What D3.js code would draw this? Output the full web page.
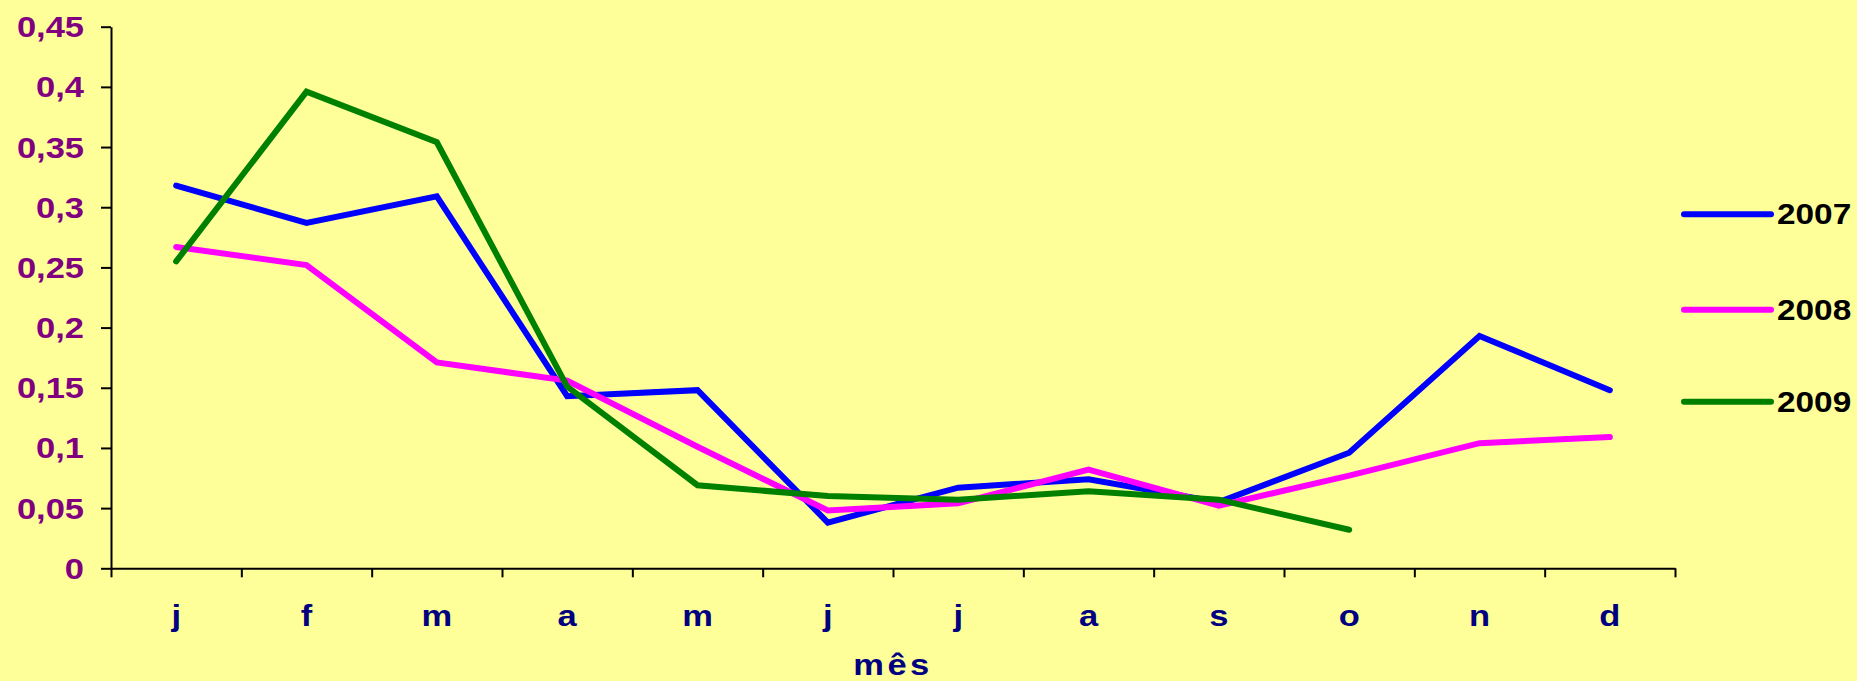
<!DOCTYPE html>
<html>
<head>
<meta charset="utf-8">
<script src="https://cdn.jsdelivr.net/npm/d3@7"></script>
<style>
  html, body { margin: 0; padding: 0; background: #FFFF99; }
  svg { display: block; }
  text { font-family: "Liberation Sans", Arial, sans-serif; font-weight: bold; }
</style>
</head>
<body>
<script>
// Monthly series, one array per year
const months = ["j", "f", "m", "a", "m", "j", "j", "a", "s", "o", "n", "d"];
const years = ["2007", "2008", "2009"];
const values2007 = [0.318, 0.287, 0.309, 0.143, 0.148, 0.038, 0.067, 0.074, 0.055, 0.096, 0.193, 0.148];
const values2008 = [0.267, 0.252, 0.171, 0.156, 0.101, 0.048, 0.054, 0.082, 0.052, 0.077, 0.104, 0.109];
const values2009 = [0.255, 0.396, 0.354, 0.151, 0.069, 0.060, 0.057, 0.064, 0.057, 0.032, null, null];
const yTicks = [0, 0.05, 0.1, 0.15, 0.2, 0.25, 0.3, 0.35, 0.4, 0.45];
const yTickLabels = ["0", "0,05", "0,1", "0,15", "0,2", "0,25", "0,3", "0,35", "0,4", "0,45"];
const xTitle = "mês";

const colors = ["#0000FF", "#FF00FF", "#008000"];
const seriesValues = [values2007, values2008, values2009];

const W = 1857, H = 681;
const plotLeft = 111, plotRight = 1675, plotTop = 26.7, plotBottom = 568.3;
const stretch = "scale(1.15,1)";

const svg = d3.select("body").append("svg")
  .attr("width", W).attr("height", H);

svg.append("rect").attr("width", W).attr("height", H).attr("fill", "#FFFF99");

const x = d3.scaleBand().domain(d3.range(months.length)).range([plotLeft, plotRight]).padding(0);
const xEdge = d3.scaleLinear().domain([0, months.length]).range([plotLeft, plotRight]);
const y = d3.scaleLinear().domain([0, 0.45]).range([plotBottom, plotTop]);

// Y axis
const yAxis = svg.append("g")
  .attr("transform", `translate(${plotLeft},0)`)
  .call(d3.axisLeft(y).tickValues(yTicks).tickFormat("").tickSizeInner(10).tickSizeOuter(0));
yAxis.select(".domain").attr("stroke", "#000").attr("stroke-width", 2);
yAxis.selectAll(".tick line").attr("stroke", "#000").attr("stroke-width", 2);

// X axis, ticks on category boundaries
const xAxis = svg.append("g")
  .attr("transform", `translate(0,${plotBottom})`)
  .call(d3.axisBottom(xEdge).tickValues(d3.range(months.length + 1)).tickFormat("").tickSizeInner(9).tickSizeOuter(0));
xAxis.select(".domain").attr("stroke", "#000").attr("stroke-width", 2);
xAxis.selectAll(".tick line").attr("stroke", "#000").attr("stroke-width", 2);

// Y tick labels
yTicks.forEach((t, i) => {
  svg.append("g")
    .attr("transform", `translate(84,${y(t) + 10.5})`)
    .append("text")
    .attr("transform", stretch)
    .attr("text-anchor", "end")
    .attr("font-size", 30)
    .attr("fill", "#800080")
    .text(yTickLabels[i]);
});

// X tick labels
months.forEach((m, i) => {
  svg.append("g")
    .attr("transform", `translate(${x(i) + x.bandwidth() / 2},625.5)`)
    .append("text")
    .attr("transform", stretch)
    .attr("text-anchor", "middle")
    .attr("font-size", 30)
    .attr("fill", "#000080")
    .text(m);
});

// Axis title
svg.append("g")
  .attr("transform", `translate(${(plotLeft + plotRight) / 2},675)`)
  .append("text")
  .attr("transform", stretch)
  .attr("text-anchor", "middle")
  .attr("font-size", 30)
  .attr("letter-spacing", 3)
  .attr("fill", "#000080")
  .text(xTitle);

// Series lines
const line = d3.line()
  .defined(d => d != null)
  .x((d, i) => x(i) + x.bandwidth() / 2)
  .y(d => y(d));

seriesValues.forEach((vals, k) => {
  svg.append("path")
    .datum(vals)
    .attr("fill", "none")
    .attr("stroke", colors[k])
    .attr("stroke-width", 6)
    .attr("stroke-linecap", "round")
    .attr("stroke-linejoin", "miter")
    .attr("d", line);
});

// Legend
const legendY = [214.3, 309.7, 401.7];
years.forEach((yr, k) => {
  const g = svg.append("g").attr("transform", `translate(0,${legendY[k]})`);
  g.append("line")
    .attr("x1", 1684).attr("x2", 1771)
    .attr("y1", 0).attr("y2", 0)
    .attr("stroke", colors[k])
    .attr("stroke-width", 6)
    .attr("stroke-linecap", "round");
  g.append("g")
    .attr("transform", "translate(1777,10)")
    .append("text")
    .attr("transform", stretch)
    .attr("font-size", 29)
    .attr("fill", "#000")
    .text(yr);
});
</script>
</body>
</html>
